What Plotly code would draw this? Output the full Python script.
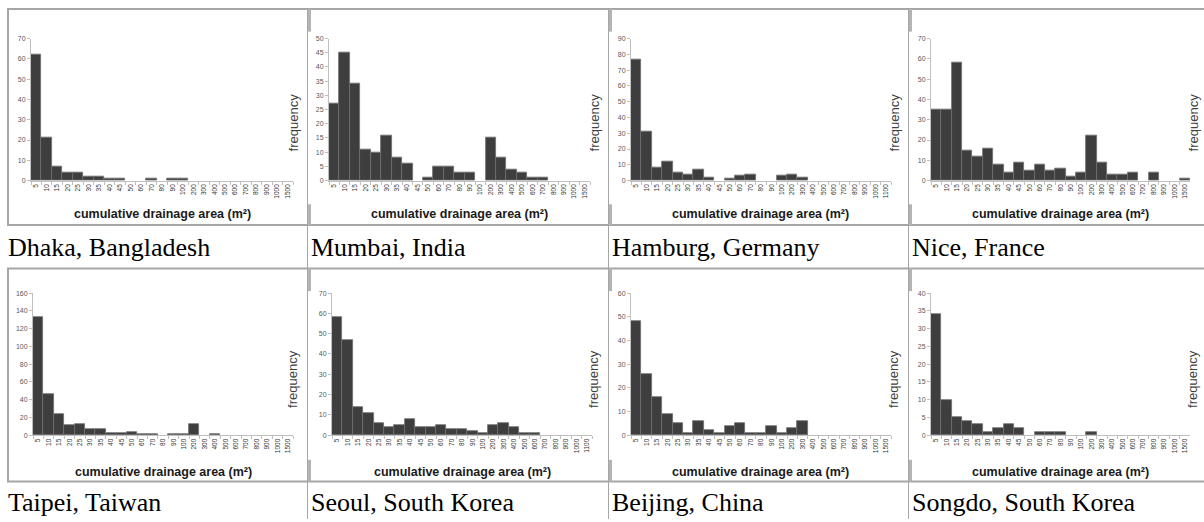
import plotly.graph_objects as go

W, H = 1204, 522

# ---------------- data ----------------
bins_a = ["5", "10", "15", "20", "25", "30", "35", "40", "45", "50", "60", "70", "80", "90",
          "100", "200", "300", "400", "500", "600", "700", "800", "900", "1000", "1500"]
bins_b = ["5", "10", "15", "20", "25", "30", "35", "40", "45", "50", "60", "70", "80", "90",
          "100", "200", "300", "400", "500", "600", "700", "800", "900", "1000", "1100"]

dhaka   = [62, 21, 7, 4, 4, 2, 2, 1, 1, 0, 0, 1, 0, 1, 1, 0, 0, 0, 0, 0, 0, 0, 0, 0, 0]
mumbai  = [27, 45, 34, 11, 10, 16, 8, 6, 0, 1, 5, 5, 3, 3, 0, 15, 8, 4, 3, 1, 1, 0, 0, 0, 0]
hamburg = [77, 31, 8, 12, 5, 4, 7, 2, 0, 1, 3, 4, 0, 0, 3, 4, 2, 0, 0, 0, 0, 0, 0, 0, 0]
nice    = [35, 35, 58, 15, 12, 16, 8, 4, 9, 5, 8, 5, 6, 2, 4, 22, 9, 3, 3, 4, 0, 4, 0, 0, 1]
taipei  = [133, 46, 24, 11, 12, 7, 7, 2, 2, 3, 1, 1, 0, 1, 1, 12, 0, 1, 0, 0, 0, 0, 0, 0, 0]
seoul   = [58, 47, 14, 11, 6, 4, 5, 8, 4, 4, 5, 3, 3, 2, 1, 5, 6, 4, 1, 1, 0, 0, 0, 0, 0]
beijing = [48, 26, 16, 9, 5, 1, 6, 2, 1, 4, 5, 1, 1, 4, 1, 3, 6, 0, 0, 0, 0, 0, 0, 0, 0]
songdo  = [34, 10, 5, 4, 3, 1, 2, 3, 2, 0, 1, 1, 1, 0, 0, 1, 0, 0, 0, 0, 0, 0, 0, 0, 0]

cities = ["Dhaka, Bangladesh", "Mumbai, India", "Hamburg, Germany", "Nice, France",
          "Taipei, Taiwan", "Seoul, South Korea", "Beijing, China", "Songdo, South Korea"]
series = [dhaka, mumbai, hamburg, nice, taipei, seoul, beijing, songdo]
bins = [bins_a, bins_a, bins_b, bins_a, bins_a, bins_b, bins_a, bins_a]
y_max = [70, 50, 90, 70, 160, 70, 60, 40]
y_step = [10, 5, 10, 10, 20, 10, 10, 5]

x_title = "cumulative drainage area (m²)"
y_title = "frequency"

# ---------------- layout (pixels) ----------------
plot_x = [(31, 293), (329, 590), (631, 891), (931, 1190),
          (33, 293), (332, 592), (631, 891), (931, 1190)]
row_y = [(35, 179), (293, 437)]
xtitle_y = [213, 474]
freq_y = [120, 380]
caption_y = [247, 505]
caption_x = [6, 309, 610, 910]
freq_x = [293, 594, 894, 1193]


def px(x):
    return x / W


def py(y):
    return 1 - y / H


fig = go.Figure()
annotations = []
layout_axes = {}

for i in range(8):
    row, col = divmod(i, 4)
    xa = "x" if i == 0 else f"x{i+1}"
    ya = "y" if i == 0 else f"y{i+1}"
    vals = series[i]
    fig.add_trace(go.Bar(
        x=bins[i], y=vals, xaxis=xa, yaxis=ya,
        marker=dict(color="#3e3e3e",
                    line=dict(color="#6e6e6e", width=[0.8 if v > 0 else 0 for v in vals])),
        showlegend=False, hoverinfo="x+y",
    ))
    x0, x1 = plot_x[i]
    ytop, ybot = row_y[row]
    xk = "xaxis" if i == 0 else f"xaxis{i+1}"
    yk = "yaxis" if i == 0 else f"yaxis{i+1}"
    layout_axes[xk] = dict(
        domain=[px(x0), px(x1)], anchor=ya, type="category",
        categoryorder="array", categoryarray=bins[i], range=[-0.5, len(bins[i]) - 0.5],
        showline=True, linecolor="#bfbfbf", linewidth=1,
        ticks="outside", tickson="boundaries", ticklen=3, tickcolor="#bfbfbf",
        tickangle=-90, tickfont=dict(family="Liberation Sans, Arial", size=6.5, color="#333333"),
        showgrid=False, zeroline=False, fixedrange=True,
    )
    layout_axes[yk] = dict(
        domain=[py(ybot), py(ytop)], anchor=xa, range=[0, y_max[i]],
        tickmode="linear", tick0=0, dtick=y_step[i],
        showline=True, linecolor="#bfbfbf", linewidth=1,
        ticks="outside", ticklen=3, tickcolor="#bfbfbf",
        tickfont=dict(family="Liberation Sans, Arial", size=7, color="#595959"),
        showgrid=False, zeroline=False, fixedrange=True,
    )
    annotations.append(dict(
        x=px((x0 + x1) / 2), y=py(xtitle_y[row]), xref="paper", yref="paper",
        text=f"<b>{x_title}</b>", showarrow=False, xanchor="center", yanchor="middle",
        font=dict(family="Liberation Sans, Arial", size=12.5, color="#1a1a1a"),
    ))
    annotations.append(dict(
        x=px(freq_x[col]), y=py(freq_y[row]), xref="paper", yref="paper",
        text=y_title, showarrow=False, textangle=-90, xanchor="center", yanchor="middle",
        font=dict(family="Liberation Sans, Arial", size=13, color="#404040"),
    ))
    annotations.append(dict(
        x=px(caption_x[col]), y=py(caption_y[row]), xref="paper", yref="paper",
        text=cities[i], showarrow=False, xanchor="left", yanchor="middle",
        font=dict(family="Liberation Serif, Times New Roman, serif", size=26, color="#000000"),
    ))

# table / frame lines
shapes = []
line_col = "#a6a6a6"
for yy in [5, 224, 268, 484]:
    shapes.append(dict(type="line", xref="paper", yref="paper",
                       x0=px(7), x1=px(1204), y0=py(yy), y1=py(yy),
                       line=dict(color=line_col, width=2)))
for xx in [307.5, 608.5, 908.5]:
    shapes.append(dict(type="line", xref="paper", yref="paper",
                       x0=px(xx), x1=px(xx), y0=py(5), y1=py(522),
                       line=dict(color=line_col, width=1)))
    for (ya0, ya1) in [(5, 28), (203, 224), (268, 291), (462, 484)]:
        shapes.append(dict(type="line", xref="paper", yref="paper",
                           x0=px(xx + 2), x1=px(xx + 2), y0=py(ya0), y1=py(ya1),
                           line=dict(color="#b4b4b4", width=3)))
for (ya0, ya1) in [(5, 224), (268, 484)]:
    shapes.append(dict(type="line", xref="paper", yref="paper",
                       x0=px(8), x1=px(8), y0=py(ya0), y1=py(ya1),
                       line=dict(color=line_col, width=2)))

fig.update_layout(
    width=W, height=H, margin=dict(l=0, r=0, t=0, b=0),
    paper_bgcolor="white", plot_bgcolor="white",
    bargap=0, annotations=annotations, shapes=shapes,
    **layout_axes,
)

fig.write_html("out.html", post_script="document.body.style.margin='0';document.body.style.overflow='hidden';",
               config={"displayModeBar": False})
